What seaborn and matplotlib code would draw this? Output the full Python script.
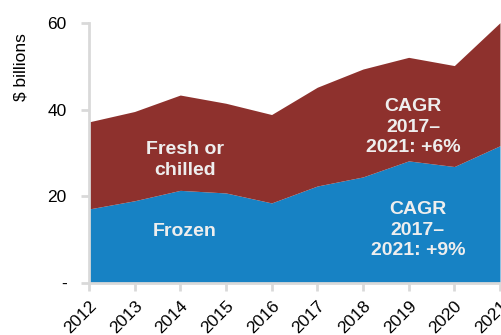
import matplotlib
matplotlib.use("Agg")
import matplotlib.pyplot as plt
import seaborn as sns
import numpy as np

years = [2012, 2013, 2014, 2015, 2016, 2017, 2018, 2019, 2020, 2021]
frozen = [17.1, 19.0, 21.4, 20.8, 18.5, 22.4, 24.5, 28.2, 26.9, 31.7]
total = [37.2, 39.6, 43.4, 41.5, 38.9, 45.2, 49.4, 52.1, 50.2, 60.1]
fresh = [t - f for t, f in zip(total, frozen)]
ytick_vals = [0, 20, 40, 60]
ytick_labels = ["-", "20", "40", "60"]

sns.set_theme(style="white")
plt.rcParams['font.family'] = ['Liberation Sans', 'DejaVu Sans']

fig = plt.figure(figsize=(5.02, 3.35), dpi=100)
ax = fig.add_axes([0.177, 0.155, 0.819, 0.776])

blue = "#1782C4"
red = "#8E312D"
ax.stackplot(years, frozen, fresh, colors=[blue, red], linewidth=0)

ax.set_xlim(2012, 2021)
ax.set_ylim(0, 60)
ax.set_yticks(ytick_vals)
ax.set_yticklabels(ytick_labels)
ax.set_xticks(years)
ax.set_xticklabels([str(y) for y in years])
ax.set_ylabel("$ billions", fontsize=12.5, color="black")
ax.yaxis.set_label_coords(-0.148, 0.83)

sns.despine(ax=ax)
for s in ["left", "bottom"]:
    ax.spines[s].set_color("#D9D9D9")
    ax.spines[s].set_linewidth(2)
ax.tick_params(axis='both', which='both', length=6, width=2, color="#D9D9D9",
               labelsize=12.5, labelcolor="black", direction='out', left=True, bottom=True)
ax.tick_params(axis='y', pad=10)
ax.tick_params(axis='x', pad=5)
for lab in ax.get_xticklabels():
    lab.set_rotation(45)
    lab.set_ha('right')
    lab.set_rotation_mode('anchor')

txt = dict(color="#EEEEEE", fontsize=14, fontweight="bold", ha="center", va="center", linespacing=1.25)
ax.text(2014.1, 28.4, "Fresh or\nchilled", **txt)
ax.text(2014.1, 12.0, "Frozen", **txt)
ax.text(2019.1, 36.0, "CAGR\n2017–\n2021: +6%", **txt)
ax.text(2019.2, 12.2, "CAGR\n2017–\n2021: +9%", **txt)

fig.savefig("out.png", dpi=100)
